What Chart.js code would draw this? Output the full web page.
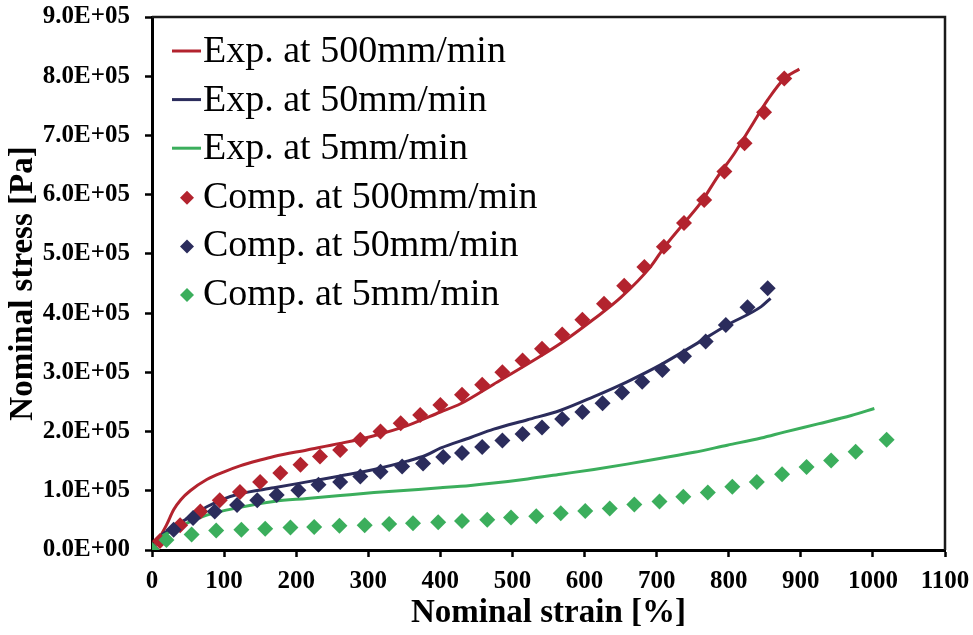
<!DOCTYPE html>
<html>
<head>
<meta charset="utf-8">
<script src="https://cdn.jsdelivr.net/npm/chart.js@4.4.0/dist/chart.umd.min.js"></script>
<style>
  html, body { margin: 0; padding: 0; background: #fff; }
</style>
</head>
<body>
<canvas id="chart" width="973" height="635"></canvas>
<script>
// experimental curves (strain %, stress Pa)
const exp500Strain = [0, 10, 20, 30, 40, 53, 76, 100, 122, 150, 169, 215, 261, 308, 354, 400, 428, 474, 521, 567, 613, 650, 692, 711, 738, 761, 785, 808, 831, 854, 877, 898]
const exp500Stress = [0, 0.20e5, 0.42e5, 0.68e5, 0.85e5, 1.00e5, 1.19e5, 1.32e5, 1.42e5, 1.52e5, 1.58e5, 1.69e5, 1.80e5, 1.93e5, 2.10e5, 2.33e5, 2.47e5, 2.80e5, 3.14e5, 3.49e5, 3.90e5, 4.26e5, 4.79e5, 5.12e5, 5.52e5, 5.86e5, 6.31e5, 6.70e5, 7.15e5, 7.60e5, 7.96e5, 8.12e5]

const exp50Strain = [0, 11, 30, 53, 76, 99, 122, 169, 215, 261, 308, 354, 380, 400, 442, 474, 521, 567, 613, 659, 706, 752, 798, 845, 858]
const exp50Stress = [0, 0.22e5, 0.39e5, 0.56e5, 0.73e5, 0.86e5, 0.95e5, 1.05e5, 1.15e5, 1.25e5, 1.36e5, 1.50e5, 1.60e5, 1.72e5, 1.90e5, 2.04e5, 2.20e5, 2.36e5, 2.59e5, 2.84e5, 3.13e5, 3.46e5, 3.80e5, 4.11e5, 4.25e5]

const exp5Strain = [0, 11, 30, 53, 76, 122, 169, 215, 261, 308, 354, 400, 442, 474, 521, 567, 613, 659, 706, 752, 798, 845, 877, 924, 970, 1002]
const exp5Stress = [0, 0.20e5, 0.34e5, 0.48e5, 0.59e5, 0.72e5, 0.82e5, 0.87e5, 0.92e5, 0.97e5, 1.01e5, 1.05e5, 1.09e5, 1.13e5, 1.20e5, 1.28e5, 1.36e5, 1.45e5, 1.55e5, 1.65e5, 1.77e5, 1.89e5, 1.99e5, 2.13e5, 2.27e5, 2.39e5]

// computed points
const comp500Strain = [0, 11, 39, 67, 94, 122, 150, 178, 206, 233, 261, 289, 317, 345, 372, 400, 430, 458, 486, 514, 541, 569, 597, 627, 655, 683, 710, 738, 766, 794, 822, 849, 877]
const comp500Stress = [0, 0.15e5, 0.42e5, 0.65e5, 0.84e5, 0.98e5, 1.15e5, 1.30e5, 1.44e5, 1.58e5, 1.69e5, 1.86e5, 2.00e5, 2.14e5, 2.28e5, 2.45e5, 2.62e5, 2.79e5, 3.00e5, 3.20e5, 3.40e5, 3.64e5, 3.89e5, 4.16e5, 4.46e5, 4.78e5, 5.12e5, 5.52e5, 5.91e5, 6.39e5, 6.87e5, 7.39e5, 7.96e5]

const comp50Strain = [0, 30, 57, 87, 118, 146, 173, 203, 231, 261, 289, 317, 347, 376, 404, 430, 458, 486, 514, 541, 569, 597, 625, 652, 680, 708, 738, 768, 796, 826, 854]
const comp50Stress = [0, 0.34e5, 0.54e5, 0.65e5, 0.76e5, 0.84e5, 0.93e5, 1.01e5, 1.10e5, 1.15e5, 1.24e5, 1.32e5, 1.41e5, 1.46e5, 1.57e5, 1.64e5, 1.74e5, 1.85e5, 1.96e5, 2.07e5, 2.21e5, 2.33e5, 2.48e5, 2.66e5, 2.84e5, 3.04e5, 3.27e5, 3.52e5, 3.80e5, 4.10e5, 4.42e5]

const comp5Strain = [0, 20, 55, 89, 124, 157, 192, 225, 260, 295, 329, 362, 397, 430, 465, 498, 533, 567, 601, 635, 669, 704, 737, 771, 805, 839, 874, 908, 942, 976, 1019]
const comp5Stress = [0, 0.17e5, 0.26e5, 0.33e5, 0.34e5, 0.36e5, 0.38e5, 0.39e5, 0.41e5, 0.42e5, 0.44e5, 0.45e5, 0.47e5, 0.49e5, 0.51e5, 0.55e5, 0.57e5, 0.62e5, 0.66e5, 0.70e5, 0.77e5, 0.82e5, 0.90e5, 0.97e5, 1.07e5, 1.15e5, 1.28e5, 1.40e5, 1.51e5, 1.66e5, 1.86e5]

const xTickLabels = ['0', '100', '200', '300', '400', '500', '600', '700', '800', '900', '1000', '1100']
const yTickLabels = ['0.0E+00', '1.0E+05', '2.0E+05', '3.0E+05', '4.0E+05', '5.0E+05', '6.0E+05', '7.0E+05', '8.0E+05', '9.0E+05']

const red = '#B3232E'
const navy = '#2B2C5C'
const green = '#3BAE5C'

const serif = '"Times New Roman", "Liberation Serif", serif'

function toPoints(xs, ys) {
    return xs.map((x, i) => ({ x: x, y: ys[i] }))
}

function lineSet(label, xs, ys, color, order) {
    return {
        label: label,
        data: toPoints(xs, ys),
        showLine: true,
        borderColor: color,
        backgroundColor: color,
        borderWidth: 3,
        pointRadius: 0,
        cubicInterpolationMode: 'monotone',
        order: order
    }
}

function pointSet(label, xs, ys, color, order) {
    return {
        label: label,
        data: toPoints(xs, ys),
        showLine: false,
        pointStyle: 'rectRot',
        pointRadius: 8,
        pointBorderWidth: 0,
        backgroundColor: color,
        borderColor: color,
        order: order
    }
}

// legend inside the plot, top left
const insideLegend = {
    id: 'insideLegend',
    afterDraw(chart) {
        const { ctx, chartArea } = chart
        ctx.save()
        ctx.font = '38px ' + serif
        ctx.textBaseline = 'middle'
        chart.data.datasets.forEach((ds, i) => {
            const y = chartArea.top + 35 + i * 48.6
            const x0 = chartArea.left + 20
            ctx.fillStyle = ds.borderColor
            ctx.strokeStyle = ds.borderColor
            if (ds.showLine) {
                ctx.lineWidth = 3
                ctx.beginPath()
                ctx.moveTo(x0, y - 1)
                ctx.lineTo(x0 + 29, y - 1)
                ctx.stroke()
            } else {
                const cx = x0 + 15
                ctx.beginPath()
                ctx.moveTo(cx - 7, y)
                ctx.lineTo(cx, y - 7)
                ctx.lineTo(cx + 7, y)
                ctx.lineTo(cx, y + 7)
                ctx.closePath()
                ctx.fill()
            }
            ctx.fillStyle = '#000'
            ctx.fillText(ds.label, chartArea.left + 51, y)
        })
        ctx.restore()
    }
}

// top and right frame lines
const frame = {
    id: 'frame',
    afterDraw(chart) {
        const { ctx, chartArea } = chart
        ctx.save()
        ctx.strokeStyle = '#1a1a1a'
        ctx.lineWidth = 2.5
        ctx.beginPath()
        ctx.moveTo(chartArea.left, chartArea.top)
        ctx.lineTo(chartArea.right, chartArea.top)
        ctx.lineTo(chartArea.right, chartArea.bottom)
        ctx.stroke()
        ctx.restore()
    }
}

const tickFont = { family: serif, size: 25, weight: 'bold' }
const titleFont = { family: serif, size: 33, weight: 'bold' }

new Chart(document.getElementById('chart'), {
    type: 'scatter',
    data: {
        datasets: [
            lineSet('Exp. at 500mm/min', exp500Strain, exp500Stress, red, 6),
            lineSet('Exp. at 50mm/min', exp50Strain, exp50Stress, navy, 5),
            lineSet('Exp. at 5mm/min', exp5Strain, exp5Stress, green, 4),
            pointSet('Comp. at 500mm/min', comp500Strain, comp500Stress, red, 3),
            pointSet('Comp. at 50mm/min', comp50Strain, comp50Stress, navy, 2),
            pointSet('Comp. at 5mm/min', comp5Strain, comp5Stress, green, 1)
        ]
    },
    options: {
        responsive: false,
        animation: false,
        layout: { padding: { left: 0, right: 28, top: 17, bottom: 0 } },
        plugins: {
            legend: { display: false },
            tooltip: { enabled: false }
        },
        scales: {
            x: {
                type: 'linear',
                min: 0,
                max: 1100,
                ticks: {
                    stepSize: 100,
                    font: tickFont,
                    color: '#000',
                    padding: 10,
                    maxRotation: 0,
                    callback: function (v, i) { return xTickLabels[i] }
                },
                grid: { drawOnChartArea: false, tickLength: 7, tickWidth: 2.5, tickColor: '#000' },
                border: { color: '#000', width: 3 },
                title: { display: true, text: 'Nominal strain [%]', font: titleFont, color: '#000', padding: { top: 0, bottom: 2 } },
                afterFit: function (scale) {
                    scale.height = 85
                    scale.paddingLeft = 0
                    scale.paddingRight = 0
                }
            },
            y: {
                type: 'linear',
                min: 0,
                max: 900000,
                ticks: {
                    stepSize: 100000,
                    font: tickFont,
                    color: '#000',
                    padding: 15,
                    callback: function (v, i) { return yTickLabels[i] }
                },
                grid: { drawOnChartArea: false, tickLength: 7, tickWidth: 2.5, tickColor: '#000' },
                border: { color: '#000', width: 3 },
                title: { display: true, text: 'Nominal stress [Pa]', font: titleFont, color: '#000', padding: { top: 4, bottom: 0 } },
                afterFit: function (scale) {
                    scale.width = 152
                    scale.paddingTop = 0
                    scale.paddingBottom = 0
                }
            }
        }
    },
    plugins: [insideLegend, frame]
})
</script>
</body>
</html>
